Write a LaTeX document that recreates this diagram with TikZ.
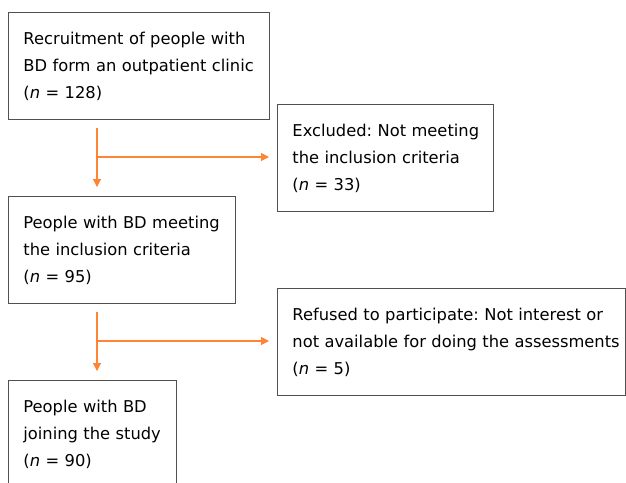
\documentclass[tikz,border=0pt]{standalone}
\usepackage{fontspec}
\setmainfont{DejaVu Sans}
\usepackage{tikz}
\usetikzlibrary{arrows.meta}
\definecolor{BoxLine}{HTML}{505050}
\definecolor{FlowOrange}{HTML}{FF8433}
\frenchspacing

\begin{document}
\begin{tikzpicture}[x=1pt,y=-1pt,
	box/.style={draw=BoxLine,line width=0.9pt,anchor=north west,align=left,inner xsep=15pt,inner ysep=0pt,minimum height=107pt,font=\fontsize{16.3}{27}\selectfont},
	flow/.style={draw=FlowOrange,line width=1.1pt,-{Triangle[length=8pt,width=8pt]}}]
	\useasboundingbox (0,0) rectangle (626,482);
	\node[box,text width=231pt] (R) at (8,12) {\mbox{Recruitment of people with}\\\mbox{BD form an outpatient clinic}\\({\itshape n} = 128)};
	\node[box,text width=186pt] (E) at (277,104) {\mbox{Excluded: Not meeting}\\\mbox{the inclusion criteria}\\({\itshape n} = 33)};
	\node[box,text width=197pt] (M) at (8,196) {\mbox{People with BD meeting}\\\mbox{the inclusion criteria}\\({\itshape n} = 95)};
	\node[box,text width=318pt] (F) at (277,288) {\mbox{Refused to participate: Not interest or}\\\mbox{not available for doing the assessments}\\({\itshape n} = 5)};
	\node[box,text width=138pt] (J) at (8,380) {\mbox{People with BD}\\\mbox{joining the study}\\({\itshape n} = 90)};
	\coordinate (s1) at (97,157);
	\coordinate (s2) at (97,341);

	\path
	(R.south -| s1) edge[flow,shorten <=8pt,shorten >=9pt] (M.north -| s1)
	(s1) edge[flow,shorten >=8pt] (E.west |- s1)
	(M.south -| s2) edge[flow,shorten <=8pt,shorten >=9pt] (J.north -| s2)
	(s2) edge[flow,shorten >=8pt] (F.west |- s2)
	;
\end{tikzpicture}
\end{document}
